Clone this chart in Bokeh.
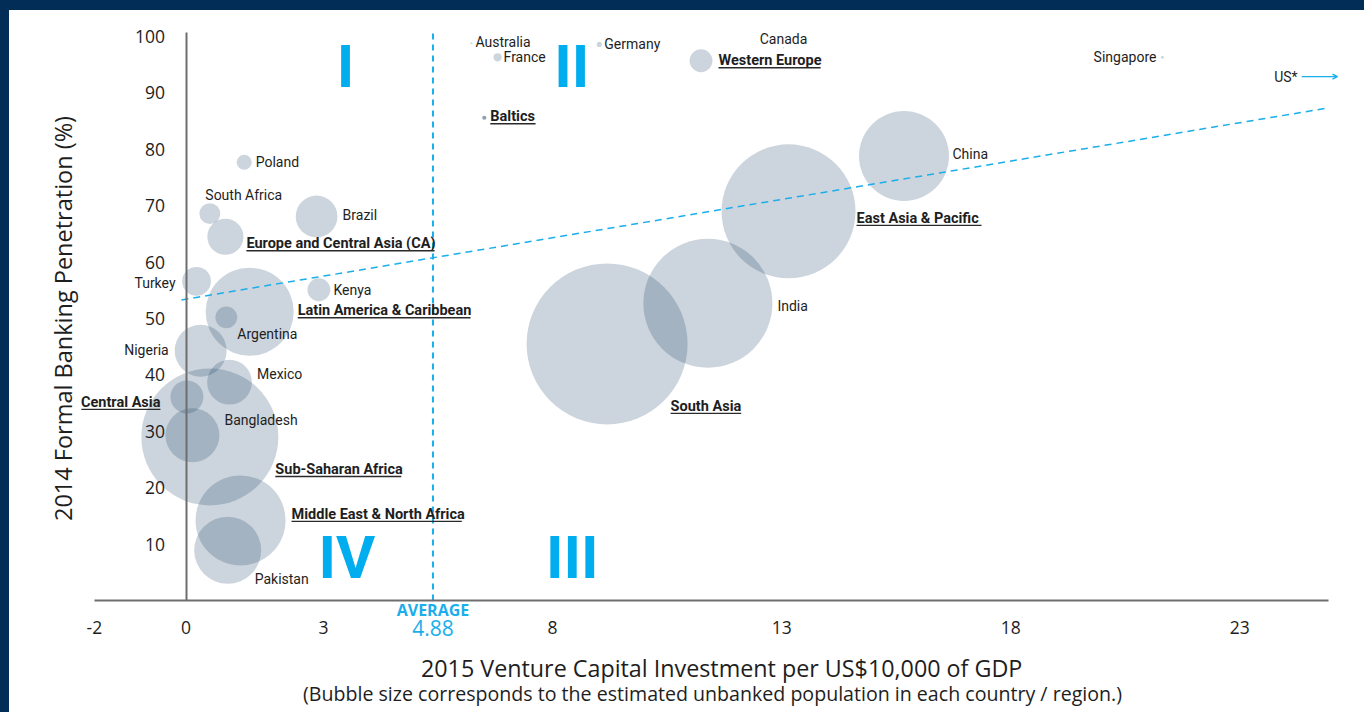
import math
from bokeh.plotting import figure
from bokeh.models import Range1d, FixedTicker, ColumnDataSource, Arrow, OpenHead, Label
from bokeh.core.properties import value
from bokeh.embed import file_html
from bokeh.resources import INLINE

# ---------------- data ----------------
names = ["Australia", "France", "Germany", "Canada", "Western Europe", "Baltics", "Singapore",
         "China", "East Asia & Pacific", "India", "South Asia", "Poland", "South Africa", "Brazil",
         "Europe and Central Asia (CA)", "Turkey", "Kenya", "Latin America & Caribbean", "Argentina",
         "Nigeria", "Mexico", "Central Asia", "Sub-Saharan Africa", "Bangladesh",
         "Middle East & North Africa", "Pakistan"]
vc_investment = [6.23, 6.80, 9.02, 13.04, 11.24, 6.51, 21.31,
                 15.67, 13.15, 11.39, 9.19, 1.27, 0.52, 2.85,
                 0.86, 0.23, 2.90, 1.39, 0.88,
                 0.32, 0.95, 0.02, 0.52, 0.14,
                 1.19, 0.91]
banking_penetration = [98.8, 96.3, 98.6, 98.0, 95.7, 85.6, 96.3,
                       78.8, 69.0, 52.7, 45.5, 77.7, 68.6, 68.1,
                       64.5, 56.6, 55.1, 51.2, 50.2,
                       44.3, 38.7, 36.1, 29.0, 29.3,
                       14.2, 8.9]
unbanked_millions = [0.1, 1.5, 0.6, 0.05, 12, 0.4, 0.2,
                     186, 412, 382, 595, 5.2, 10, 40,
                     30, 19, 12, 178, 11,
                     62, 46, 25, 431, 67,
                     186, 103]
regions = ["Western Europe", "Baltics", "East Asia & Pacific", "South Asia",
           "Europe and Central Asia (CA)", "Latin America & Caribbean", "Central Asia",
           "Sub-Saharan Africa", "Middle East & North Africa"]

x_ticks = [-2, 0, 3, 8, 13, 18, 23]
y_ticks = [10, 20, 30, 40, 50, 60, 70, 80, 90, 100]
average_vc = 4.88
average_line_x = 5.39          # where the average marker is drawn in the source chart
trend_x = [-0.1, 24.9]
trend_y = [53.3, 87.3]
us_label = "US*"
us_banking = 92.9

x_title = "2015 Venture Capital Investment per US$10,000 of GDP"
x_subtitle = "(Bubble size corresponds to the estimated unbanked population in each country / region.)"
y_title = "2014 Formal Banking Penetration (%)"

quadrants = ["I", "II", "IV", "III"]
quadrant_x = [3.48, 8.42, 3.51, 8.43]
quadrant_y = [94.6, 94.6, 7.6, 7.6]

# ---------------- layout / style ----------------
NAVY = "#022d56"
CYAN = "#1aaeeb"
NUM_CYAN = "#00aeef"
INK = "#1e1e1e"
AXIS = "#6e6e6e"
LABEL_FONT = "Roboto"
NUM_FONT = "Open Sans"

W, H = 1355, 702
X0, X1 = -3.852, 25.72
PPY = 5.64
Y1 = 104.61
Y0 = Y1 - H / PPY
PPX = W / (X1 - X0)

# label placement: pixel offset from the bubble centre (dx right, dy down) and alignment
label_layout = {
    "Australia": (4, -1, "left"), "France": (6, 0, "left"), "Germany": (5, 0, "left"),
    "Canada": (0, -9, "center"), "Western Europe": (17.5, 0, "left"), "Baltics": (6, -1, "left"),
    "Singapore": (-6, 0, "right"), "China": (48.5, -2.5, "left"),
    "East Asia & Pacific": (68, 7, "left"), "India": (69.5, 2.5, "left"),
    "South Asia": (63.5, 62.5, "left"), "Poland": (11.5, 0, "left"),
    "South Africa": (-4.5, -19, "left"), "Brazil": (26, -1, "left"),
    "Europe and Central Asia (CA)": (21, 7, "left"), "Turkey": (-21, 2, "right"),
    "Kenya": (14.5, 0, "left"), "Latin America & Caribbean": (48, -1, "left"),
    "Argentina": (11, 17, "left"), "Nigeria": (-32, -1, "right"), "Mexico": (27.5, -8, "left"),
    "Central Asia": (-26.5, 5.5, "right"), "Sub-Saharan Africa": (65.5, 32.5, "left"),
    "Bangladesh": (32, -15, "left"), "Middle East & North Africa": (51, -6, "left"),
    "Pakistan": (27, 29, "left"),
}

LABEL_SIZE = 14
BOLD_SIZE = 14.5


def est_width(s, size):
    w = 0.0
    for ch in s:
        if ch in "iljI.,'| ":
            w += 0.27
        elif ch in "ftr()-":
            w += 0.35
        elif ch in "mwMW":
            w += 0.86
        elif ch.isupper() or ch == "&":
            w += 0.71
        else:
            w += 0.58
    return w * size * 0.935


p = figure(width=W, height=H, x_range=Range1d(X0, X1), y_range=Range1d(Y0, Y1),
           output_backend="svg", toolbar_location=None, min_border=0,
           background_fill_color="white", border_fill_color="white")
p.outline_line_color = None
p.grid.visible = False

# axes placed at the origin
xa = p.xaxis[0]
xa.fixed_location = 0
xa.bounds = (-2, 24.93)
xa.ticker = FixedTicker(ticks=x_ticks)
xa.major_label_overrides = {t: str(t) for t in x_ticks}
ya = p.yaxis[0]
ya.fixed_location = 0
ya.bounds = (0, 100.7)
ya.ticker = FixedTicker(ticks=y_ticks)
for ax in (xa, ya):
    ax.axis_line_color = AXIS
    ax.axis_line_width = 2
    ax.major_tick_line_color = None
    ax.minor_tick_line_color = None
    ax.major_label_text_font = NUM_FONT
    ax.major_label_text_font_size = "17.5px"
    ax.major_label_text_color = INK
xa.major_label_standoff = 14
ya.major_label_standoff = 15

# bubbles
sizes = [6.6 * math.sqrt(v) for v in unbanked_millions]
alphas = [0.45 if n == "Baltics" else 0.2 for n in names]
src = ColumnDataSource(dict(x=vc_investment, y=banking_penetration, s=sizes, a=alphas, name=names))
p.scatter("x", "y", size="s", source=src, fill_color=NAVY, fill_alpha="a", line_color=None)

# trend line and average marker
p.line(trend_x, trend_y, line_color=CYAN, line_width=1.5, line_dash="7 5")
p.segment(x0=[average_line_x], y0=[0], x1=[average_line_x], y1=[100.7],
          line_color=CYAN, line_width=2, line_dash="6 5")

# labels
groups = {}
ul = dict(x0=[], y0=[], x1=[], y1=[])
for n, x, y in zip(names, vc_investment, banking_penetration):
    dx, dy, al = label_layout[n]
    bold = n in regions
    lx = x + dx / PPX
    ly = y - dy / PPY
    g = groups.setdefault((al, bold), dict(x=[], y=[], t=[]))
    g["x"].append(lx); g["y"].append(ly); g["t"].append(n)
    if bold:
        w = est_width(n, BOLD_SIZE) / PPX
        if al == "left":
            a, b = lx, lx + w
        elif al == "right":
            a, b = lx - w, lx
        else:
            a, b = lx - w / 2, lx + w / 2
        uy = ly - 7 / PPY
        ul["x0"].append(a); ul["x1"].append(b); ul["y0"].append(uy); ul["y1"].append(uy)

for (al, bold), g in groups.items():
    p.text(x=g["x"], y=g["y"], text=g["t"], text_align=al, text_baseline="middle",
           text_font=value(LABEL_FONT),
           text_font_size=value(f"{BOLD_SIZE if bold else LABEL_SIZE}px"),
           text_font_style="bold" if bold else "normal", text_color=INK)
p.segment(x0="x0", y0="y0", x1="x1", y1="y1", source=ColumnDataSource(ul),
          line_color="#2a2a2a", line_width=1.4)

# quadrant numerals
p.text(x=quadrant_x, y=quadrant_y, text=quadrants, text_align="center", text_baseline="middle",
       text_font=value("Roboto"), text_font_size=value("60px"), text_font_style="bold",
       text_color=NUM_CYAN)

# US off-scale marker
p.add_layout(Label(x=24.26, y=us_banking, text=us_label, text_align="right", text_baseline="middle",
                   text_font=LABEL_FONT, text_font_size=f"{LABEL_SIZE}px", text_color=INK))
p.add_layout(Arrow(x_start=24.35, y_start=us_banking, x_end=25.13, y_end=us_banking,
                   line_color=CYAN, line_width=1.3,
                   end=OpenHead(size=5, line_color=CYAN, line_width=1.3)))

# average labels
p.add_layout(Label(x=average_line_x, y=-1.6, text="AVERAGE", text_align="center", text_baseline="middle",
                   text_font=NUM_FONT, text_font_style="bold", text_font_size="16px", text_color=CYAN))
p.add_layout(Label(x=average_line_x, y=-4.8, text=f"{average_vc:.2f}", text_align="center",
                   text_baseline="middle", text_font=NUM_FONT, text_font_size="21px", text_color=CYAN))

# axis titles
p.add_layout(Label(x=11.69, y=-11.9, text=x_title, text_align="center", text_baseline="middle",
                   text_font=NUM_FONT, text_font_size="23.3px", text_color=INK))
p.add_layout(Label(x=11.49, y=-16.5, text=x_subtitle, text_align="center", text_baseline="middle",
                   text_font=NUM_FONT, text_font_size="19.6px", text_color=INK))
p.add_layout(Label(x=-2.695, y=50.0, text=y_title, angle=math.pi / 2, text_align="center",
                   text_baseline="middle", text_font=NUM_FONT, text_font_size="23.5px", text_color=INK))

CSS = ("html{background:linear-gradient(%s,%s) 0 0/100%% 10px no-repeat,"
       "linear-gradient(%s,%s) 0 0/9px 100%% no-repeat,#ffffff;}"
       "body{margin:10px 0 0 9px;background:transparent;}") % (NAVY, NAVY, NAVY, NAVY)
try:
    from bokeh.models import GlobalInlineStyleSheet
    p.stylesheets = [GlobalInlineStyleSheet(css=CSS)]
except ImportError:
    pass

open("out.html", "w").write(file_html(p, INLINE))
